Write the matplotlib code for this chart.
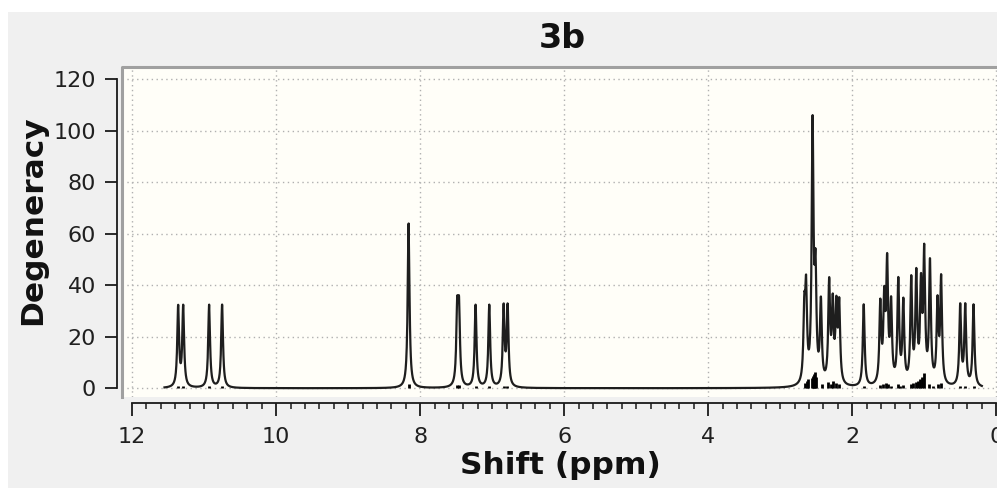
import numpy as np
import matplotlib
matplotlib.use("Agg")
import matplotlib.pyplot as plt
from matplotlib.ticker import MultipleLocator, FixedLocator
from matplotlib.patches import Rectangle

# ---- data ----
title = "3b"
x_label = "Shift (ppm)"
y_label = "Degeneracy"

# apparent peak maxima (ppm, height)
peak_ppm = [11.36, 11.29, 10.93, 10.75, 8.16, 7.485, 7.46, 7.23, 7.04, 6.84, 6.785,
            2.665, 2.64, 2.55, 2.51, 2.435, 2.32, 2.27, 2.22, 2.18, 1.84,
            1.61, 1.555, 1.515, 1.46, 1.36, 1.29, 1.18, 1.11, 1.045, 1.0, 0.92,
            0.815, 0.765, 0.50, 0.43, 0.315]
peak_height = [32.5, 32.5, 32.5, 32.5, 64.0, 35.7, 35.7, 32.5, 32.5, 33.0, 33.0,
               37.0, 44.0, 106.0, 54.0, 35.7, 43.2, 36.8, 36.0, 35.3, 32.6,
               34.8, 39.7, 52.5, 35.7, 43.2, 35.2, 43.9, 46.7, 44.8, 56.1, 50.6,
               36.1, 44.3, 33.1, 33.1, 32.6]

# stick spectrum at the bottom (ppm, degeneracy marks)
stick_ppm = [11.36, 11.29, 10.93, 10.75, 8.16, 7.485, 7.465, 7.23, 7.04, 6.84, 6.79,
             2.65, 2.63, 2.61, 2.56, 2.545, 2.53, 2.515, 2.50, 2.42,
             2.33, 2.30, 2.26, 2.23, 2.19, 1.84,
             1.61, 1.57, 1.53, 1.50, 1.46, 1.37, 1.33, 1.29,
             1.19, 1.15, 1.12, 1.09, 1.06, 1.035, 1.01,
             0.93, 0.88, 0.81, 0.77, 0.50, 0.43, 0.315]
stick_height = [1.0, 1.0, 1.0, 1.0, 1.6, 1.2, 1.2, 1.0, 1.0, 1.0, 1.0,
                2.0, 3.0, 3.5, 4.0, 4.8, 5.5, 6.3, 4.5, 1.8,
                2.5, 1.5, 3.0, 2.0, 1.5, 1.0,
                1.3, 1.8, 2.0, 1.5, 1.0, 1.5, 1.0, 1.2,
                1.5, 2.0, 2.5, 3.0, 3.5, 4.5, 6.0,
                1.5, 1.0, 1.5, 2.0, 1.0, 1.0, 1.0]

curve_range = (11.55, 0.20)
line_hwhm = 0.015

# ---- build the Lorentzian spectrum from the peak list ----
pp = np.array(peak_ppm)
ph = np.array(peak_height)
def lor(d):
    return 1.0 / (1.0 + (d / line_hwhm) ** 2)
M = lor(pp[:, None] - pp[None, :])
amps = np.linalg.solve(M, ph)
xs = np.linspace(curve_range[1], curve_range[0], 6000)
ys = (amps[None, :] * lor(xs[:, None] - pp[None, :])).sum(axis=1)

# ---- figure ----
W, H = 997, 488
fig = plt.figure(figsize=(W / 100, H / 100), dpi=100, facecolor="white")
fig.patches.append(Rectangle((8 / W, 0), 1, 1 - 12 / H, transform=fig.transFigure,
                             facecolor="#f0f0f0", edgecolor="none", zorder=-10))

left, right, top, bottom = 122, 1002, 67, 397
ax = fig.add_axes([left / W, 1 - bottom / H, (right - left) / W, (bottom - top) / H])
ax.set_facecolor("#fffef8")
ax.set_xlim(12.14, -0.08)
ax.set_ylim(-3.4, 124.7)

# grid
ax.xaxis.set_major_locator(FixedLocator([12, 10, 8, 6, 4, 2, 0]))
ax.xaxis.set_minor_locator(MultipleLocator(0.2))
ax.yaxis.set_major_locator(FixedLocator([0, 20, 40, 60, 80, 100, 120]))
ax.grid(True, which="major", linestyle=(0, (1, 2.5)), color="#b0b0b0", linewidth=1.0)
ax.set_axisbelow(True)

# frame of plot area (grey on left and top)
ax.plot([0, 0, 1], [0, 1, 1], transform=ax.transAxes, color="#a0a0a0",
        linewidth=2.2, clip_on=False, zorder=5)

# spectrum
ax.plot(xs, ys, color="#1e1e1e", linewidth=1.6, zorder=3)
ax.vlines(stick_ppm, 0, stick_height, color="black", linewidth=2.0, zorder=4)

# spines as separate axes lines
for s in ("top", "right"):
    ax.spines[s].set_visible(False)
ax.spines["left"].set_position(("outward", 3.6))
ax.spines["left"].set_bounds(0, 120)
ax.spines["bottom"].set_position(("outward", 4.3))
ax.spines["bottom"].set_bounds(12, 0)
for s in ("left", "bottom"):
    ax.spines[s].set_color("#1a1a1a")
    ax.spines[s].set_linewidth(1.3)

ax.tick_params(axis="both", which="major", direction="out", length=9, width=1.3,
               color="#1a1a1a", labelsize=16, labelcolor="#202020")
ax.tick_params(axis="x", which="minor", direction="out", length=4.5, width=1.1,
               color="#1a1a1a")
ax.tick_params(axis="x", which="major", pad=8)
ax.tick_params(axis="y", which="major", pad=6)
ax.set_xticklabels(["12", "10", "8", "6", "4", "2", "0"])

fig.text(562 / W, 1 - 38 / H, title, ha="center", va="center",
         fontsize=24, fontweight="bold", color="#111111")
fig.text(560 / W, 1 - 465 / H, x_label, ha="center", va="center",
         fontsize=22.5, fontweight="bold", color="#111111")
fig.text(33 / W, 1 - 220 / H, y_label, ha="center", va="center", rotation=90,
         fontsize=22.5, fontweight="bold", color="#111111")

fig.savefig("out.png", dpi=100, facecolor=fig.get_facecolor())
